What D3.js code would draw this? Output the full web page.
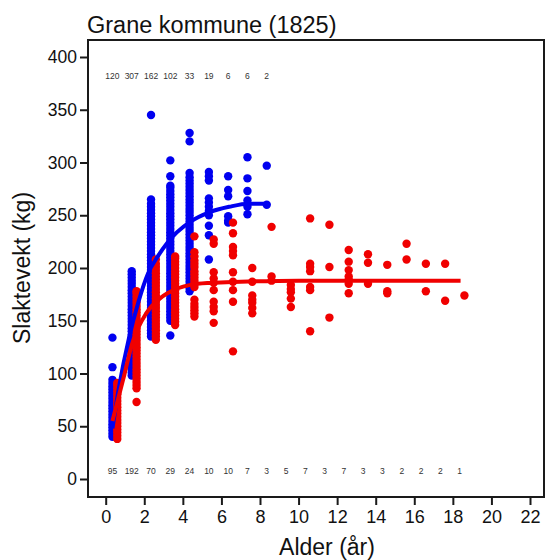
<!DOCTYPE html>
<html><head><meta charset="utf-8">
<script src="https://cdn.jsdelivr.net/npm/d3@7"></script>
<style>body{margin:0;background:#fff}svg{display:block}text{font-family:"Liberation Sans",Arial,sans-serif}</style>
</head><body>
<script>
// ---- data ----
const title = "Grane kommune (1825)";
const xTicks = [0,2,4,6,8,10,12,14,16,18,20,22];
const yTicks = [0,50,100,150,200,250,300,350,400];

// males (blue): age groups and weights
const maleAges = [0.35,1.35,2.35,3.35,4.35,5.35,6.35,7.35,8.35];
const maleCounts = [120,307,162,102,33,19,6,6,2];
const maleWeights = [
  [40,43,46,49,52,55,58,61,64,67,70,73,76,79,82,85,88,91,94,106,134],
  [98,101,104,107,110,113,116,119,122,125,128,131,134,137,140,143,146,149,152,155,158,161,164,167,170,173,176,179,182,185,188,191,194,197],
  [135,138,141,144,147,150,153,156,159,162,165,168,171,174,177,180,183,186,189,192,195,198,201,204,207,210,213,216,219,222,225,228,231,234,237,240,243,246,249,252,255,258,261,265,345],
  [136,150,153,156,159,162,165,168,171,174,177,180,183,186,189,192,195,198,201,204,207,210,213,216,219,222,225,228,231,234,237,240,243,246,249,252,255,258,261,264,267,270,273,276,278,287,302],
  [178,181,184,187,190,193,196,199,202,205,208,211,214,217,220,223,226,229,232,235,238,241,244,247,250,253,256,259,262,265,268,271,274,277,280,283,286,290,320,328],
  [208,231,240,250,254,258,262,266,283,287,291],
  [243,245,249,268,274,287],
  [251,258,264,273,285,305],
  [260,297]
];
// females (red)
const femaleAges = [0.6,1.6,2.6,3.6,4.6,5.6,6.6,7.6,8.6,9.6,10.6,11.6,12.6,13.6,14.6,15.6,16.6,17.6,18.6];
const femaleCounts = [95,192,70,29,24,10,10,7,3,5,7,3,7,3,3,2,2,2,1];
const femaleWeights = [
  [38,41,44,47,50,53,56,59,62,65,68,71,74,77,80,83,86,89,91],
  [73,86,89,92,95,98,101,104,107,110,113,116,119,122,125,128,131,134,137,140,143,146,149,152,155,158,161,164,167,170,173,176,178],
  [132,135,138,141,144,147,150,153,156,159,162,165,168,171,174,177,180,183,186,189,192,195,198,201,204,208],
  [146,149,152,155,158,161,164,167,170,173,176,179,182,185,188,191,194,197,200,203,206,209,211],
  [154,157,160,163,166,170,182,185,188,191,194,197,201,204,207,211,215,230],
  [148,159,163,168,179,186,190,196,223,227],
  [121,168,179,187,196,212,216,220,233,243],
  [157,162,167,170,174,187,200],
  [188,192,239],
  [163,171,177,180,184],
  [140,179,182,197,201,204,247],
  [153,201,241],
  [176,185,189,192,198,206,217],
  [185,205,213],
  [176,178,203],
  [208,223],
  [178,204],
  [169,204],
  [174]
];
// fitted growth curves
const maleFitAge = [0.35,0.7,1.2,1.7,2.2,2.7,3.2,3.7,4.4,5.4,6.4,7.4,8.4];
const maleFitKg  = [48,88,133,168,195,211,224,234,244,253,258,261,261];
const femaleFitAge = [0.35,0.9,1.4,2.1,2.8,3.2,4.4,5.5,7,10,18.4];
const femaleFitKg  = [55,94,130,157,171,176,184,186,187,188,188];

// ---- drawing ----
const W = 546, H = 560;
const L = 88, R = 544, T = 40, B = 497;
const blue = "#0000f0", red = "#f00000";

const x = d3.scaleLinear().domain([0,22]).range([105.7,530]);
const y = d3.scaleLinear().domain([0,400]).range([479,57]);

const svg = d3.select("body").append("svg").attr("width",W).attr("height",H);

// title
svg.append("text").attr("x",L-1).attr("y",33).attr("font-size",23.5).attr("fill","#111").text(title);

// points
const pts = (ages, weights) => ages.flatMap((a,i)=>weights[i].map(w=>({a,w})));
const plot = svg.append("g");
plot.selectAll("circle.m").data(pts(maleAges,maleWeights)).join("circle")
  .attr("class","m").attr("cx",d=>x(d.a)).attr("cy",d=>y(d.w)).attr("r",4.2).attr("fill",blue);
plot.selectAll("circle.f").data(pts(femaleAges,femaleWeights)).join("circle")
  .attr("class","f").attr("cx",d=>x(d.a)).attr("cy",d=>y(d.w)).attr("r",4.2).attr("fill",red);

// fitted lines
const line = d3.line().x(d=>x(d[0])).y(d=>y(d[1])).curve(d3.curveMonotoneX);
plot.append("path").datum(maleFitAge.map((a,i)=>[a,maleFitKg[i]]))
  .attr("d",line).attr("fill","none").attr("stroke",blue).attr("stroke-width",4);
plot.append("path").datum(femaleFitAge.map((a,i)=>[a,femaleFitKg[i]]))
  .attr("d",line).attr("fill","none").attr("stroke",red).attr("stroke-width",4);

// count labels
svg.append("g").selectAll("text").data(maleCounts).join("text")
  .attr("x",(d,i)=>x(maleAges[i])).attr("y",y(382)+3).attr("text-anchor","middle")
  .attr("font-size",8.5).attr("fill","#333").text(d=>d);
svg.append("g").selectAll("text").data(femaleCounts).join("text")
  .attr("x",(d,i)=>x(femaleAges[i]-0.25)).attr("y",y(8)+3).attr("text-anchor","middle")
  .attr("font-size",8.5).attr("fill","#333").text(d=>d);

// frame
svg.append("rect").attr("x",L).attr("y",T).attr("width",R-L).attr("height",B-T)
  .attr("fill","none").attr("stroke","#1a1a1a").attr("stroke-width",2);

// axes
const yAxis = d3.axisLeft(y).tickValues(yTicks).tickSize(8).tickPadding(3);
const gy = svg.append("g").attr("transform",`translate(${L},0)`).call(yAxis);
gy.select(".domain").remove();
gy.selectAll("line").attr("stroke","#1a1a1a").attr("stroke-width",2);
gy.selectAll("text").attr("font-size",17.5).attr("fill","#111").attr("font-family","Liberation Sans, Arial, sans-serif");

const xAxis = d3.axisBottom(x).tickValues(xTicks).tickSize(8).tickPadding(5);
const gx = svg.append("g").attr("transform",`translate(0,${B})`).call(xAxis);
gx.select(".domain").remove();
gx.selectAll("line").attr("stroke","#1a1a1a").attr("stroke-width",2);
gx.selectAll("text").attr("font-size",18).attr("fill","#111").attr("font-family","Liberation Sans, Arial, sans-serif");

// axis titles
svg.append("text").attr("x",327).attr("y",555).attr("text-anchor","middle")
  .attr("font-size",23).attr("fill","#111").text("Alder (år)");
svg.append("text").attr("transform","translate(30,268) rotate(-90)").attr("text-anchor","middle")
  .attr("font-size",23).attr("fill","#111").text("Slaktevekt (kg)");
</script>
</body></html>
